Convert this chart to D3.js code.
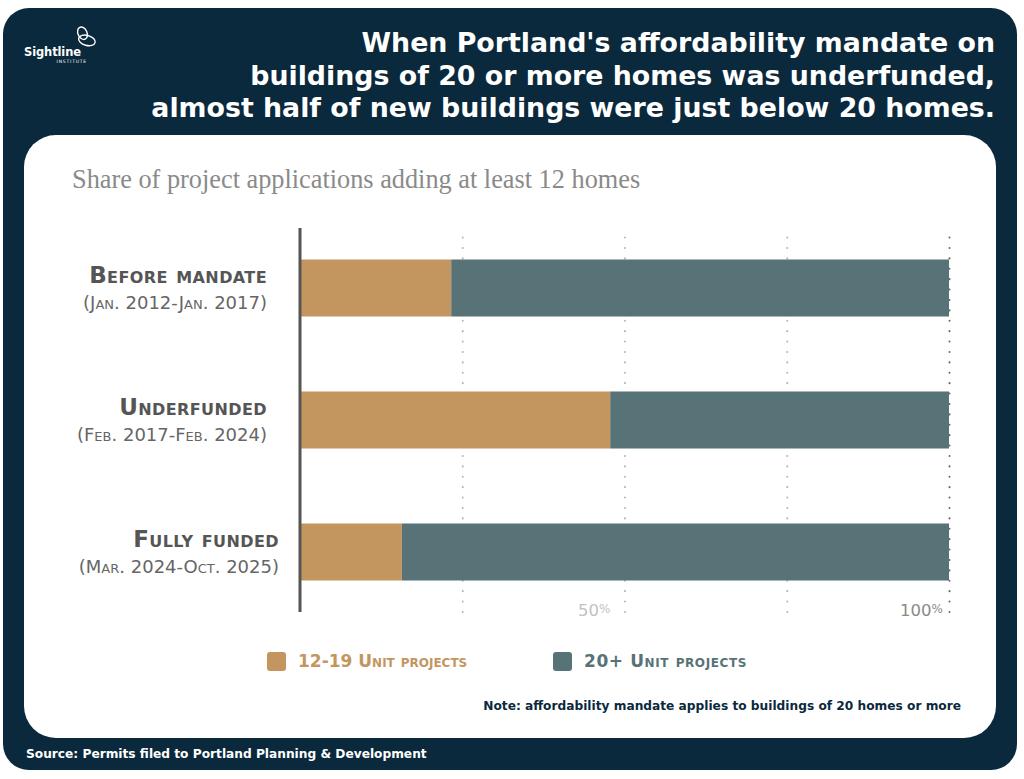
<!DOCTYPE html>
<html>
<head>
<meta charset="utf-8">
<script src="https://cdn.jsdelivr.net/npm/d3@7"></script>
<style>
  body { margin: 0; background: #fff; }
  svg { display: block; }
  .caps { font-variant: small-caps; }
</style>
</head>
<body>
<div id="chart"></div>
<script>
// data
var categories = ["Before mandate", "Underfunded", "Fully funded"];
var periods = ["(Jan. 2012-Jan. 2017)", "(Feb. 2017-Feb. 2024)", "(Mar. 2024-Oct. 2025)"];
var shareSmall = [0.233, 0.478, 0.157];   // 12-19 unit projects
var shareLarge = [0.767, 0.522, 0.843];   // 20+ unit projects
var seriesNames = ["12-19 Unit projects", "20+ Unit projects"];
var gridTicks = [0.25, 0.5, 0.75, 1];
var tickLabels = ["", "50%", "", "100%"];
var titleLines = [
  "When Portland's affordability mandate on",
  "buildings of 20 or more homes was underfunded,",
  "almost half of new buildings were just below 20 homes."
];

var navy = "#0b293c", orange = "#c4965f", teal = "#587377";
var font = "'DejaVu Sans', sans-serif";

var W = 1024, H = 779;
var svg = d3.select("#chart").append("svg")
  .attr("width", W)
  .attr("height", H);

// background panels
svg.append("rect")
  .attr("x", 3).attr("y", 8)
  .attr("width", 1014).attr("height", 762)
  .attr("rx", 26)
  .attr("fill", navy);

svg.append("rect")
  .attr("x", 24).attr("y", 135)
  .attr("width", 972).attr("height", 603)
  .attr("rx", 32)
  .attr("fill", "#fff");

// logo
var logo = svg.append("g").attr("transform", "translate(86,36)");
logo.append("ellipse")
  .attr("cx", -2).attr("cy", -4).attr("rx", 4.5).attr("ry", 6.5)
  .attr("transform", "rotate(-25)")
  .attr("fill", "none").attr("stroke", "#fff").attr("stroke-width", 1.4);
logo.append("ellipse")
  .attr("cx", 2).attr("cy", 4).attr("rx", 8.5).attr("ry", 5)
  .attr("transform", "rotate(15)")
  .attr("fill", "none").attr("stroke", "#fff").attr("stroke-width", 1.4);
svg.append("text")
  .attr("x", 24).attr("y", 56)
  .attr("font-family", font).attr("font-weight", "bold").attr("font-size", 11.5)
  .attr("textLength", 57).attr("lengthAdjust", "spacing")
  .attr("fill", "#fff")
  .text("Sightline");
svg.append("text")
  .attr("x", 87).attr("y", 63)
  .attr("text-anchor", "end")
  .attr("font-family", font).attr("font-size", 4.5).attr("letter-spacing", 0.8)
  .attr("fill", "#fff")
  .text("INSTITUTE");

// title
svg.append("g").selectAll("text")
  .data(titleLines)
  .join("text")
  .attr("x", 995)
  .attr("y", function(d, i) { return 52 + i * 32.5; })
  .attr("text-anchor", "end")
  .attr("font-family", font).attr("font-weight", "bold").attr("font-size", 26.8)
  .attr("fill", "#fff")
  .text(function(d) { return d; });

// subtitle
svg.append("text")
  .attr("x", 72).attr("y", 188)
  .attr("font-family", "'Liberation Serif', serif").attr("font-size", 26.3)
  .attr("fill", "#8a8a8a")
  .text("Share of project applications adding at least 12 homes");

// chart area
var margin = { left: 300, right: 75, top: 222, bottom: 161 };
var width = W - margin.left - margin.right;
var height = H - margin.top - margin.bottom;

var g = svg.append("g")
  .attr("transform", "translate(" + margin.left + "," + margin.top + ")");

var x = d3.scaleLinear().domain([0, 1]).range([0, width]);
var y = d3.scaleBand().domain(categories).range([0, height])
  .paddingInner(0.568).paddingOuter(0.284);

// grid / axis with dotted lines
var xAxis = d3.axisBottom(x)
  .tickValues(gridTicks)
  .tickSize(-(height - 12))
  .tickFormat("");

var gridG = g.append("g")
  .attr("class", "x-axis")
  .attr("transform", "translate(0," + (height - 6) + ")")
  .call(xAxis);
gridG.select(".domain").remove();
gridG.selectAll(".tick line")
  .attr("stroke", function(d) { return d === 1 ? "#666" : "#b5b5b5"; })
  .attr("stroke-width", 2)
  .attr("stroke-linecap", "round")
  .attr("stroke-dasharray", "0.1,10.3");

// tick labels
var tl = g.append("g").selectAll("text")
  .data(gridTicks)
  .join("text")
  .attr("x", function(d) { return x(d) - (d === 1 ? 6 : 14); })
  .attr("y", height - 2)
  .attr("text-anchor", "end")
  .attr("font-family", font).attr("font-size", 16.5)
  .attr("fill", function(d) { return d === 1 ? "#8a8a8a" : "#c2c2c2"; });
tl.append("tspan").text(function(d, i) { return tickLabels[i].replace("%", ""); });
tl.append("tspan").attr("font-size", 12).attr("dy", -3)
  .text(function(d, i) { return tickLabels[i] ? "%" : ""; });

// bars
var rows = g.append("g").selectAll("g")
  .data(categories)
  .join("g")
  .attr("transform", function(d) { return "translate(0," + y(d) + ")"; });

rows.append("rect")
  .attr("x", x(0))
  .attr("height", y.bandwidth())
  .attr("width", function(d, i) { return x(shareSmall[i]) - x(0); })
  .attr("fill", orange);

rows.append("rect")
  .attr("x", function(d, i) { return x(shareSmall[i]); })
  .attr("height", y.bandwidth())
  .attr("width", function(d, i) { return x(shareSmall[i] + shareLarge[i]) - x(shareSmall[i]); })
  .attr("fill", teal);

// category labels (last one sits a little further right in the original)
function labelX(i) { return i === 2 ? -21 : -33; }

rows.append("text")
  .attr("class", "caps")
  .attr("x", function(d, i) { return labelX(i); })
  .attr("y", y.bandwidth() / 2 - 5)
  .attr("text-anchor", "end")
  .attr("font-family", font).attr("font-weight", "bold").attr("font-size", 23)
  .attr("letter-spacing", 0.4)
  .attr("fill", "#555")
  .text(function(d) { return d; });

rows.append("text")
  .attr("class", "caps")
  .attr("x", function(d, i) { return labelX(i); })
  .attr("y", y.bandwidth() / 2 + 21)
  .attr("text-anchor", "end")
  .attr("font-family", font).attr("font-size", 18)
  .attr("fill", "#666")
  .text(function(d, i) { return periods[i]; });

// y axis line
g.append("line")
  .attr("x1", 0).attr("x2", 0)
  .attr("y1", 6).attr("y2", height - 6)
  .attr("stroke", "#555").attr("stroke-width", 3);

// legend
var legendX = [267, 553];
var legendColors = [orange, teal];
var legend = svg.append("g").selectAll("g")
  .data(seriesNames)
  .join("g")
  .attr("transform", function(d, i) { return "translate(" + legendX[i] + ",652)"; });
legend.append("rect")
  .attr("width", 19).attr("height", 19).attr("rx", 3)
  .attr("fill", function(d, i) { return legendColors[i]; });
legend.append("text")
  .attr("class", "caps")
  .attr("x", 31).attr("y", 15)
  .attr("font-family", font).attr("font-weight", "bold").attr("font-size", 17)
  .attr("letter-spacing", function(d, i) { return i === 0 ? 0 : 0.6; })
  .attr("fill", function(d, i) { return legendColors[i]; })
  .text(function(d) { return d; });

// note + source
svg.append("text")
  .attr("x", 961).attr("y", 710)
  .attr("text-anchor", "end")
  .attr("font-family", font).attr("font-weight", "bold").attr("font-size", 12.2)
  .attr("fill", navy)
  .text("Note: affordability mandate applies to buildings of 20 homes or more");

svg.append("text")
  .attr("x", 26).attr("y", 758)
  .attr("font-family", font).attr("font-weight", "bold").attr("font-size", 12.2)
  .attr("fill", "#fff")
  .text("Source: Permits filed to Portland Planning & Development");
</script>
</body>
</html>
